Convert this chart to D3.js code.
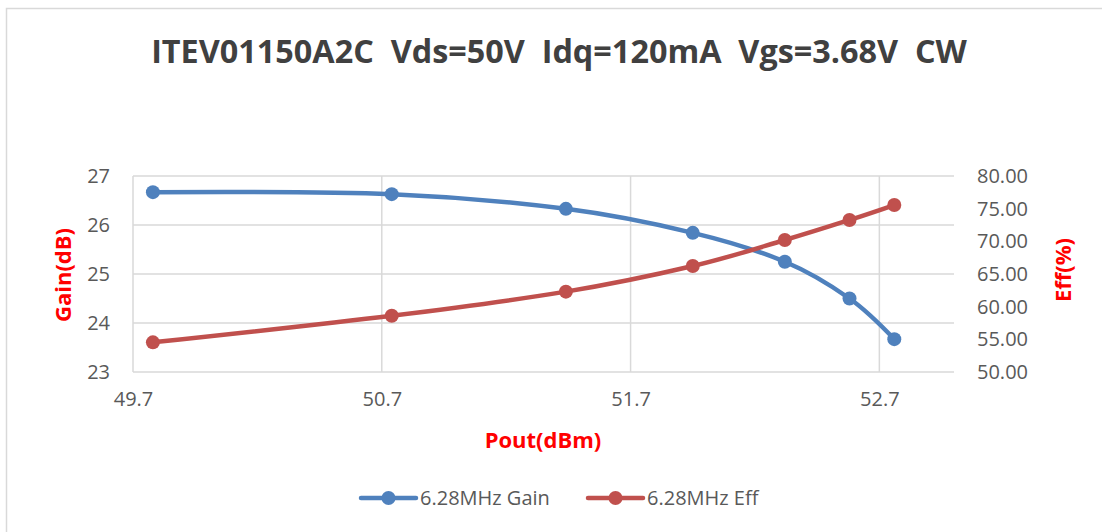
<!DOCTYPE html>
<html>
<head>
<meta charset="utf-8">
<script src="https://cdn.jsdelivr.net/npm/d3@7"></script>
<style>
  body { margin: 0; background: #fff; }
  svg { display: block; font-family: "Open Sans", sans-serif; }
</style>
</head>
<body>
<svg id="chart"></svg>
<script>
// data
const pout = [49.78, 50.74, 51.44, 51.95, 52.32, 52.58, 52.76];
const gain = [26.67, 26.63, 26.33, 25.84, 25.25, 24.50, 23.67];
const eff = [54.54, 58.62, 62.30, 66.22, 70.20, 73.27, 75.56];

const xTicks = [49.7, 50.7, 51.7, 52.7];
const gainTicks = [23, 24, 25, 26, 27];
const effTicks = [50, 55, 60, 65, 70, 75, 80];

const seriesNames = ['6.28MHz Gain', '6.28MHz Eff'];
const titleText = 'ITEV01150A2C  Vds=50V  Idq=120mA  Vgs=3.68V  CW';

const drawGraph = () => {
  const width = 1102;
  const height = 532;
  const blue = '#4f81bd';
  const red = '#c0504d';
  const grid = '#d9d9d9';
  const tickColor = '#595959';

  const svg = d3.select('#chart')
    .attr('width', width)
    .attr('height', height);

  // outer frame
  svg.append('rect')
    .attr('x', 6.5).attr('y', 8.5)
    .attr('width', width + 20).attr('height', height + 20)
    .attr('fill', 'none')
    .attr('stroke', grid)
    .attr('stroke-width', 1.5);

  // scales
  const x = d3.scaleLinear().domain([49.7, 53]).range([133, 954]);
  const yGain = d3.scaleLinear().domain([23, 27]).range([372, 176]);
  const yEff = d3.scaleLinear().domain([50, 80]).range([372, 176]);

  // gridlines
  svg.append('g')
    .selectAll('line')
    .data(gainTicks)
    .enter()
    .append('line')
    .attr('x1', x(49.7)).attr('x2', x(53))
    .attr('y1', (d) => yGain(d)).attr('y2', (d) => yGain(d))
    .attr('stroke', grid).attr('stroke-width', 1.5);

  svg.append('g')
    .selectAll('line')
    .data(xTicks)
    .enter()
    .append('line')
    .attr('x1', (d) => x(d)).attr('x2', (d) => x(d))
    .attr('y1', yGain(27)).attr('y2', yGain(23))
    .attr('stroke', grid).attr('stroke-width', 1.5);

  // axes (labels only, Excel style)
  const xAxis = d3.axisBottom(x).tickValues(xTicks).tickFormat(d3.format('.1f')).tickSize(0).tickPadding(20);
  const yAxisL = d3.axisLeft(yGain).tickValues(gainTicks).tickFormat(d3.format('d')).tickSize(0).tickPadding(23);
  const yAxisR = d3.axisRight(yEff).tickValues(effTicks).tickFormat(d3.format('.2f')).tickSize(0).tickPadding(23);

  [
    svg.append('g').attr('transform', `translate(0, ${yGain(23)})`).call(xAxis),
    svg.append('g').attr('transform', `translate(${x(49.7)}, 0)`).call(yAxisL),
    svg.append('g').attr('transform', `translate(${x(53)}, 0)`).call(yAxisR)
  ].forEach((g) => {
    g.select('.domain').remove();
    g.selectAll('text')
      .attr('fill', tickColor)
      .style('font-size', '20px')
      .style('font-family', '"Open Sans", sans-serif');
  });

  // lines
  const gainLine = d3.line()
    .x((d, i) => x(pout[i]))
    .y((d) => yGain(d))
    .curve(d3.curveCardinal.tension(0));
  const effLine = d3.line()
    .x((d, i) => x(pout[i]))
    .y((d) => yEff(d))
    .curve(d3.curveCardinal.tension(0));

  svg.append('path')
    .attr('d', gainLine(gain))
    .attr('fill', 'none').attr('stroke', blue)
    .attr('stroke-width', 4.5).attr('stroke-linecap', 'round');
  svg.append('path')
    .attr('d', effLine(eff))
    .attr('fill', 'none').attr('stroke', red)
    .attr('stroke-width', 4.5).attr('stroke-linecap', 'round');

  svg.append('g')
    .selectAll('circle')
    .data(gain)
    .enter()
    .append('circle')
    .attr('cx', (d, i) => x(pout[i]))
    .attr('cy', (d) => yGain(d))
    .attr('r', 7)
    .attr('fill', blue);
  svg.append('g')
    .selectAll('circle')
    .data(eff)
    .enter()
    .append('circle')
    .attr('cx', (d, i) => x(pout[i]))
    .attr('cy', (d) => yEff(d))
    .attr('r', 7)
    .attr('fill', red);

  // title
  const title = svg.append('text')
    .attr('x', 559).attr('y', 63)
    .attr('text-anchor', 'middle')
    .attr('fill', '#404040')
    .style('font-weight', 'bold')
    .style('font-size', '28px')
    .style('white-space', 'pre')
    .text(titleText);
  const tw = title.node().getComputedTextLength();
  title.style('font-size', (28 * 816 / tw).toFixed(2) + 'px');

  // axis titles
  svg.append('text')
    .attr('transform', 'translate(71, 275) rotate(-90)')
    .attr('text-anchor', 'middle')
    .attr('fill', '#ff0000')
    .style('font-weight', 'bold').style('font-size', '22px')
    .text('Gain(dB)');
  svg.append('text')
    .attr('transform', 'translate(1071, 270) rotate(-90)')
    .attr('text-anchor', 'middle')
    .attr('fill', '#ff0000')
    .style('font-weight', 'bold').style('font-size', '22px')
    .text('Eff(%)');
  svg.append('text')
    .attr('x', 543).attr('y', 448)
    .attr('text-anchor', 'middle')
    .attr('fill', '#ff0000')
    .style('font-weight', 'bold').style('font-size', '22px')
    .text('Pout(dBm)');

  // legend
  const legend = svg.append('g')
    .selectAll('g')
    .data(seriesNames)
    .enter()
    .append('g')
    .attr('transform', (d, i) => `translate(${[361, 588][i]}, 498)`);
  legend.append('line')
    .attr('x1', 0).attr('x2', 55)
    .attr('stroke', (d, i) => [blue, red][i])
    .attr('stroke-width', 4.5).attr('stroke-linecap', 'round');
  legend.append('circle')
    .attr('cx', 27.5).attr('r', 7)
    .attr('fill', (d, i) => [blue, red][i]);
  legend.append('text')
    .attr('x', 59).attr('dy', '0.35em')
    .attr('fill', tickColor)
    .style('font-size', '20px')
    .text((d) => d);
};

drawGraph();
</script>
</body>
</html>
